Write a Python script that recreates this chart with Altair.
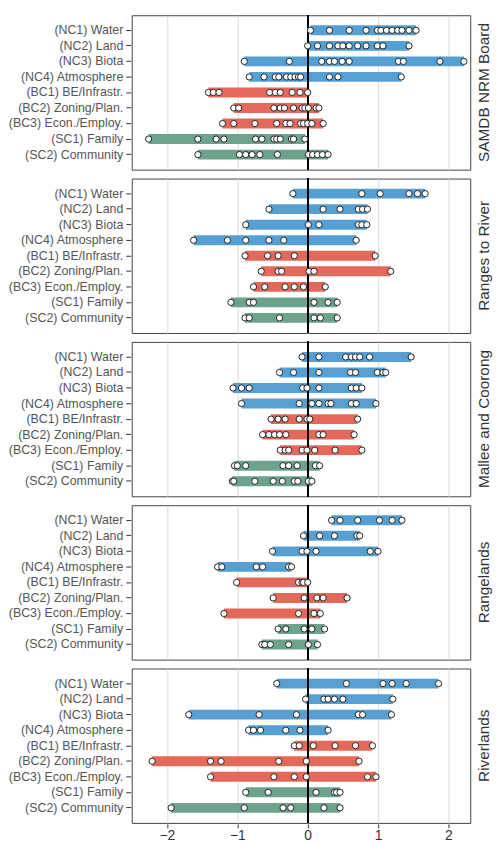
import altair as alt
import pandas as pd

regions = ["SAMDB NRM Board", "Ranges to River", "Mallee and Coorong", "Rangelands", "Riverlands"]
categories = ["(NC1) Water", "(NC2) Land", "(NC3) Biota", "(NC4) Atmosphere",
              "(BC1) BE/Infrastr.", "(BC2) Zoning/Plan.", "(BC3) Econ./Employ.",
              "(SC1) Family", "(SC2) Community"]
groups = ["NC", "NC", "NC", "NC", "BC", "BC", "BC", "SC", "SC"]
group_colors = {"NC": "#569fd3", "BC": "#e5695b", "SC": "#6da28c"}

samdb = [
    [0.04, 0.31, 0.59, 0.83, 0.99, 1.04, 1.12, 1.20, 1.28, 1.34, 1.44, 1.54],
    [0.0, 0.14, 0.31, 0.43, 0.50, 0.59, 0.71, 0.83, 0.99, 1.07, 1.44],
    [-0.90, -0.26, 0.20, 0.31, 0.38, 0.49, 0.59, 1.29, 1.36, 1.88, 2.22],
    [-0.83, -0.62, -0.46, -0.41, -0.30, -0.24, -0.18, -0.13, -0.10, 0.31, 0.43, 1.33],
    [-1.41, -1.34, -1.26, -0.54, -0.46, -0.39, -0.22, -0.11, 0.0],
    [-1.05, -0.98, -0.48, -0.39, -0.33, -0.20, -0.08, -0.04, 0.01, 0.12, 0.16],
    [-1.21, -1.05, -0.75, -0.44, -0.31, -0.25, -0.10, -0.06, 0.0, 0.06, 0.22],
    [-2.26, -1.56, -1.30, -1.19, -0.74, -0.65, -0.48, -0.44, -0.39, -0.23, -0.20, -0.04],
    [-1.56, -0.97, -0.88, -0.79, -0.68, -0.43, 0.01, 0.07, 0.14, 0.21, 0.29],
]
ranges = [
    [-0.21, 0.77, 1.03, 1.44, 1.56, 1.67],
    [-0.55, 0.22, 0.46, 0.72, 0.78, 0.85],
    [-0.88, 0.01, 0.16, 0.72, 0.77, 0.84],
    [-1.62, -1.14, -0.88, -0.55, -0.34, 0.69],
    [-0.89, -0.57, -0.42, -0.19, 0.96],
    [-0.66, -0.42, -0.37, 0.02, 0.09, 1.18],
    [-0.77, -0.61, -0.32, -0.19, -0.06, 0.25],
    [-1.09, -0.83, -0.77, 0.09, 0.29, 0.42],
    [-0.89, -0.83, -0.40, 0.09, 0.18, 0.42],
]
mallee = [
    [-0.08, 0.16, 0.54, 0.62, 0.68, 0.74, 0.88, 1.47],
    [-0.40, -0.20, 0.16, 0.61, 0.68, 0.99, 1.07, 1.11],
    [-1.06, -0.94, -0.83, -0.07, -0.01, 0.16, 0.62, 0.69, 0.77],
    [-0.94, -0.12, 0.06, 0.16, 0.29, 0.33, 0.62, 0.69, 0.97],
    [-0.52, -0.42, -0.32, -0.12, -0.01, 0.03, 0.71],
    [-0.64, -0.55, -0.47, -0.40, -0.31, 0.16, 0.22, 0.66],
    [-0.39, -0.32, -0.27, -0.08, -0.01, 0.10, 0.39, 0.77],
    [-1.04, -1.00, -0.88, -0.35, -0.27, -0.15, 0.11, 0.17],
    [-1.07, -1.05, -0.75, -0.49, -0.36, -0.19, -0.14, 0.01, 0.06],
]
rangelands = [
    [0.34, 0.46, 0.71, 1.02, 1.20, 1.34],
    [-0.06, 0.17, 0.38, 0.70, 0.74],
    [-0.50, -0.08, -0.01, 0.12, 0.89, 1.00],
    [-1.28, -1.22, -0.73, -0.64, -0.27, -0.23],
    [-1.01, -0.13, -0.08, -0.06, 0.0],
    [-0.49, -0.05, 0.13, 0.22, 0.56],
    [-1.19, -0.13, 0.09, 0.18],
    [-0.42, -0.31, -0.05, 0.06, 0.24],
    [-0.65, -0.61, -0.53, -0.27, 0.01, 0.14],
]
riverlands = [
    [-0.44, 0.55, 1.07, 1.20, 1.40, 1.86],
    [-0.03, 0.23, 0.29, 0.38, 0.50, 1.21],
    [-1.69, -0.69, -0.16, 0.72, 0.78, 1.19],
    [-0.84, -0.77, -0.67, -0.31, -0.11, 0.29],
    [-0.19, -0.12, 0.08, 0.39, 0.68, 0.92],
    [-2.21, -1.38, -1.23, -0.41, -0.02, 0.73],
    [-1.38, -0.48, -0.19, -0.02, 0.85, 0.97],
    [-0.88, -0.56, 0.12, 0.38, 0.41, 0.46],
    [-1.94, -0.90, -0.35, -0.24, 0.23, 0.46],
]
all_values = [samdb, ranges, mallee, rangelands, riverlands]

rows = []
for reg, reg_vals in zip(regions, all_values):
    for cat, grp, vals in zip(categories, groups, reg_vals):
        for v in vals:
            rows.append({"region": reg, "category": cat, "group": grp, "value": v})
df = pd.DataFrame(rows)

W, H = 342, 156

xscale = alt.Scale(domain=[-2.5, 2.31], nice=False, zero=False)
yscale = alt.Scale(domain=categories, paddingInner=0, paddingOuter=0.47)
color = alt.Color("group:N", scale=alt.Scale(domain=list(group_colors.keys()),
                                             range=list(group_colors.values())), legend=None)

xaxis = alt.Axis(values=[-2, -1, 0, 1, 2], format="d", title=None, grid=True, gridColor="#d9d9d9",
                 labelFontSize=14, labelColor="#333", tickColor="#333", domain=False,
                 tickSize=4, labelPadding=1)
yaxis = alt.Axis(title=None, grid=False, labelFontSize=12.5, labelColor="#555",
                 tickColor="#333", domain=False, tickSize=5, labelPadding=3)

bars = alt.Chart().mark_rule(strokeWidth=10).encode(
    y=alt.Y("category:N", sort=categories, scale=yscale, axis=yaxis),
    x=alt.X("min(value):Q", scale=xscale, axis=xaxis),
    x2="max(value):Q",
    color=color,
)
zero = alt.Chart().mark_rule(color="black", strokeWidth=1).encode(
    x=alt.datum(0, scale=xscale)
)
points = alt.Chart().mark_point(filled=True, fill="white", stroke="#222", strokeWidth=1,
                                size=40, opacity=1).encode(
    y=alt.Y("category:N", sort=categories, scale=yscale),
    x=alt.X("value:Q", scale=xscale),
)
label = alt.Chart().transform_aggregate(
    n="count()", groupby=["region"]
).mark_text(angle=270, fontSize=15.5, color="#333", align="center", baseline="middle").encode(
    text="region:N",
    x=alt.value(W + 14),
    y=alt.value(H / 2),
)

chart = alt.layer(bars, zero, points, label, data=df).properties(
    width=W, height=H
).facet(
    row=alt.Row("region:N", sort=regions, header=alt.Header(title=None, labels=False))
).properties(
    spacing=7
).configure(
    font="Liberation Sans", padding={"left": 0, "top": 2, "right": 0, "bottom": 0}
).configure_view(
    stroke="#444", strokeWidth=1
)

chart.save("out.html", embed_options={"renderer": "svg", "actions": False})
